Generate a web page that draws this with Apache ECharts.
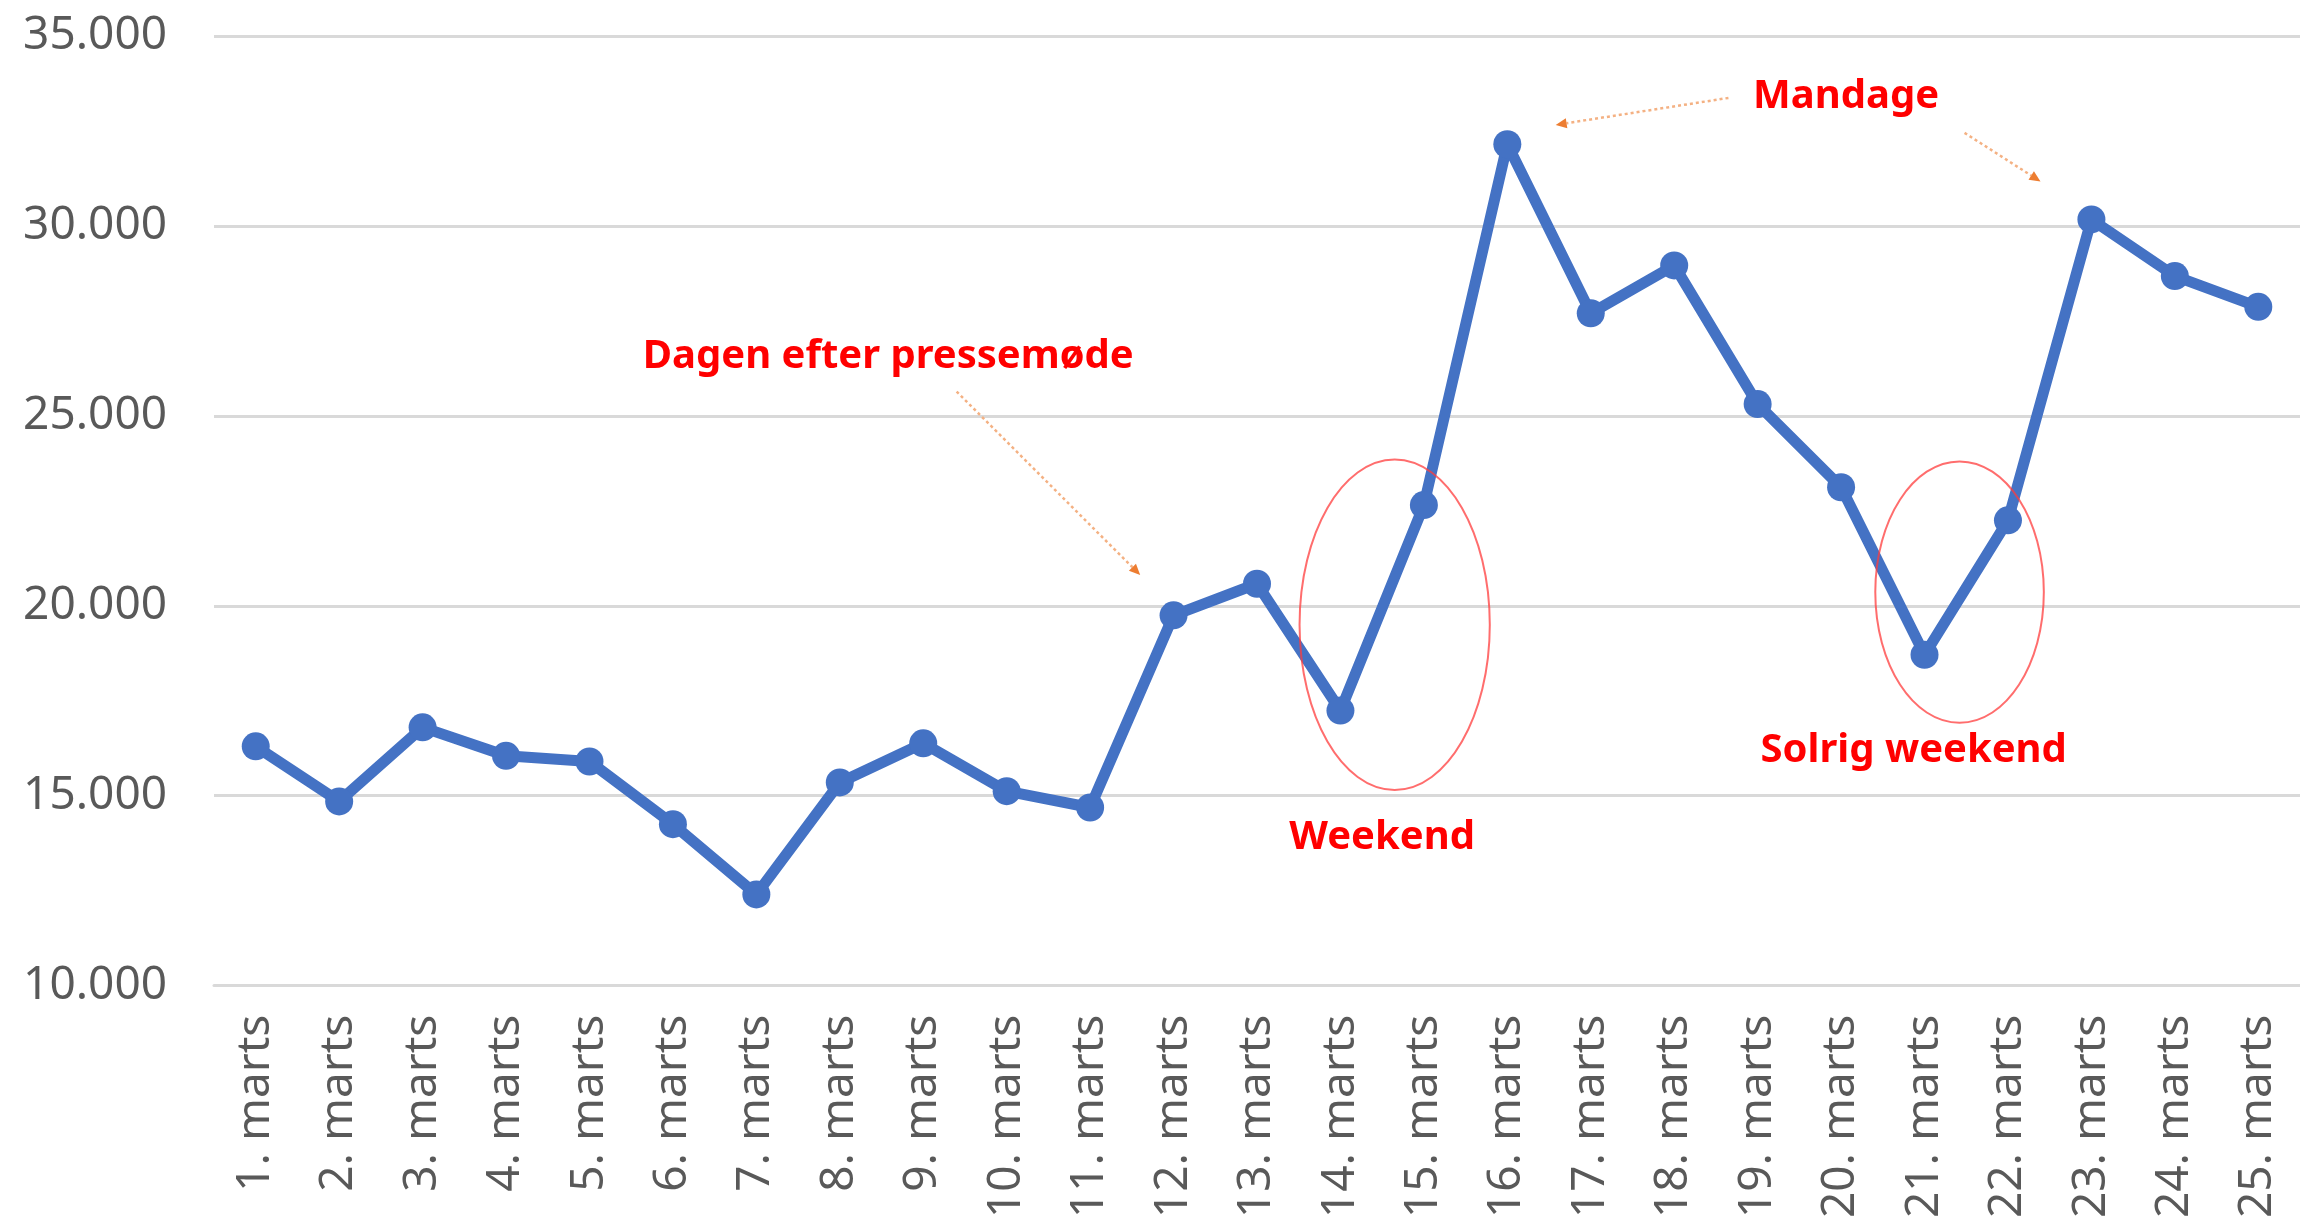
<!DOCTYPE html>
<html>
<head>
<meta charset="utf-8">
<script src="https://cdn.jsdelivr.net/npm/echarts@6/dist/echarts.min.js"></script>
<style>
	html, body { margin: 0; padding: 0; background: #fff; }
	#main { width: 2300px; height: 1221px; }
</style>
</head>
<body>
<div id="main"></div>
<script>
// datoer (kategorier)
const days = ['1. marts', '2. marts', '3. marts', '4. marts', '5. marts', '6. marts', '7. marts',
	'8. marts', '9. marts', '10. marts', '11. marts', '12. marts', '13. marts', '14. marts',
	'15. marts', '16. marts', '17. marts', '18. marts', '19. marts', '20. marts', '21. marts',
	'22. marts', '23. marts', '24. marts', '25. marts'];
// værdier
const values = [16300, 14850, 16800, 16050, 15900, 14250, 12400, 15350, 16380, 15120, 14690,
	19750, 20580, 17240, 22650, 32150, 27700, 28960, 25310, 23120, 18710, 22250, 30170, 28680, 27870];
const yTicks = [10000, 15000, 20000, 25000, 30000, 35000];

// annoteringer i data-enheder: [kategori-index, værdi]
const notes = [
	{ text: 'Dagen efter pressemøde', at: [7.58, 26550] },
	{ text: 'Mandage', at: [19.06, 33400] },
	{ text: 'Weekend', at: [13.5, 13900] },
	{ text: 'Solrig weekend', at: [19.87, 16200] }
];
const arrows = [
	{ from: [8.40, 25640], to: [10.60, 20810] },
	{ from: [17.65, 33370], to: [15.58, 32660] },
	{ from: [20.48, 32450], to: [21.39, 31170] }
];
// ellipser: centrum, radius i kategorier og værdi
const ellipses = [
	{ at: [13.65, 19500], rx: 1.14, ry: 4350 },
	{ at: [20.42, 20360], rx: 1.01, ry: 3440 }
];

const fmt = v => (v / 1000).toFixed(3);

var myChart = echarts.init(document.getElementById('main'));
myChart.setOption({
	animation: false,
	grid: { left: 214, right: -14, top: 36, bottom: 232, containLabel: false },
	xAxis: {
		type: 'category',
		data: days,
		boundaryGap: true,
		axisTick: { show: false },
		axisLine: { lineStyle: { color: '#D9D9D9', width: 3 } },
		axisLabel: { rotate: 90, interval: 0, margin: 29, fontSize: 46, color: '#595959', fontFamily: 'Noto Sans' }
	},
	yAxis: {
		type: 'value',
		min: yTicks[0],
		max: yTicks[yTicks.length - 1],
		interval: 5000,
		axisLine: { show: false },
		axisTick: { show: false },
		axisLabel: { margin: 47, fontSize: 46, color: '#595959', fontFamily: 'Noto Sans', formatter: fmt },
		splitLine: { lineStyle: { color: '#D9D9D9', width: 3 } }
	},
	series: [{
		type: 'line',
		data: values,
		symbol: 'circle',
		symbolSize: 28,
		lineStyle: { width: 11, color: '#4472C4' },
		itemStyle: { color: '#4472C4' }
	}]
});

// data -> pixel, også for brøkdele af kategorier
function toPx(p) {
	const i0 = Math.floor(p[0]), f = p[0] - i0;
	const a = myChart.convertToPixel({ gridIndex: 0 }, [i0, p[1]]);
	const b = myChart.convertToPixel({ gridIndex: 0 }, [i0 + 1, p[1]]);
	return [a[0] + (b[0] - a[0]) * f, a[1]];
}

const graphics = [];
ellipses.forEach(e => {
	const c = toPx(e.at);
	const band = toPx([e.at[0] + 1, e.at[1]])[0] - c[0];
	const top = toPx([e.at[0], e.at[1] + e.ry]);
	graphics.push({
		type: 'ellipse',
		shape: { cx: c[0], cy: c[1], rx: e.rx * band, ry: c[1] - top[1] },
		style: { fill: 'none', stroke: 'rgba(255,60,60,0.75)', lineWidth: 2 },
		z: 10
	});
});
arrows.forEach(a => {
	const p0 = toPx(a.from), p1 = toPx(a.to);
	const ang = Math.atan2(p1[1] - p0[1], p1[0] - p0[0]);
	const len = 11, w = 5;
	const bx = p1[0] - len * Math.cos(ang), by = p1[1] - len * Math.sin(ang);
	graphics.push({
		type: 'line',
		shape: { x1: p0[0], y1: p0[1], x2: bx, y2: by },
		style: { stroke: '#F4B183', lineWidth: 2.5, lineDash: [3, 3] },
		z: 10
	});
	graphics.push({
		type: 'polygon',
		shape: { points: [p1, [bx + w * Math.sin(ang), by - w * Math.cos(ang)], [bx - w * Math.sin(ang), by + w * Math.cos(ang)]] },
		style: { fill: '#ED7D31' },
		z: 10
	});
});
notes.forEach(n => {
	const c = toPx(n.at);
	graphics.push({
		type: 'text',
		x: c[0], y: c[1],
		style: { text: n.text, fill: '#FF0000', font: 'bold 40px "Noto Sans"', align: 'center', verticalAlign: 'middle' },
		z: 10
	});
});
myChart.setOption({ graphic: graphics });
</script>
</body>
</html>
